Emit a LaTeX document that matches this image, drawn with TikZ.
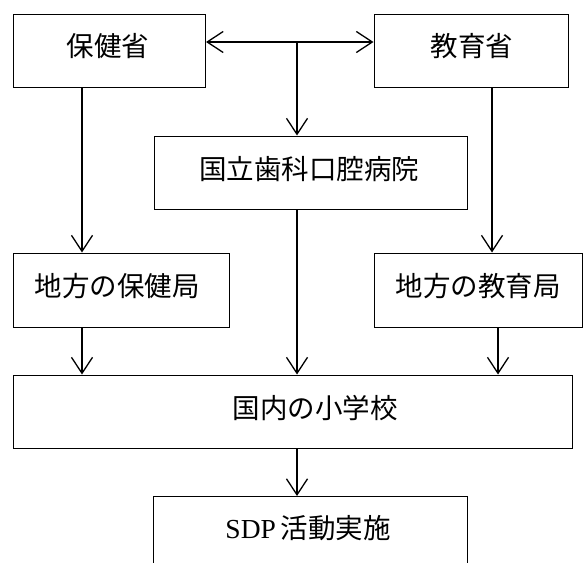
\documentclass[tikz,border=0pt]{standalone}
\usepackage{fontspec}
\setmainfont{Liberation Serif}
\newfontfamily\cjk{Noto Sans CJK JP}
\usetikzlibrary{arrows.meta}
\tikzset{
  box/.style={draw=black, line width=1pt, inner sep=0pt, fill=none},
  lbl/.style={inner sep=0pt, font=\fontsize{27.5}{32}\selectfont\cjk},
  conn/.style={line width=1.3pt, -{Straight Barb[length=16pt,width=21pt,line width=1.3pt]}},
  dconn/.style={line width=1.3pt, {Straight Barb[length=16pt,width=21pt,line width=1.3pt]}-{Straight Barb[length=16pt,width=21pt,line width=1.3pt]}}
}
\begin{document}
\begin{tikzpicture}[x=1pt,y=-1pt]
\useasboundingbox[fill=white] (0,0) rectangle (583,562);
\clip (0,0) rectangle (583,562);
% boxes
\node[box, minimum width=192, minimum height=73] (hoken) at (109.5,50.5) {};
\node[box, minimum width=194, minimum height=73] (kyoiku) at (471,50.5) {};
\node[box, minimum width=313, minimum height=73] (koku) at (310.5,172.5) {};
\node[box, minimum width=216, minimum height=74] (chihoH) at (121,290) {};
\node[box, minimum width=208, minimum height=74] (chihoK) at (478,290) {};
\node[box, minimum width=559, minimum height=73] (school) at (292.5,411.5) {};
\node[box, minimum width=314, minimum height=100, anchor=north] (sdp) at (310,496) {};
% texts
\node[lbl] (t1) at (108,46) {保健省};
\node[lbl] (t2) at (472,46) {教育省};
\node[lbl] (t3) at (309,169) {国立歯科口腔病院};
\node[lbl] (t4) at (117,286) {地方の保健局};
\node[lbl] (t5) at (478,286) {地方の教育局};
\node[lbl] (t6) at (315,408) {国内の小学校};
\node[lbl] (t7) at (308,528) {\rmfamily SDP\,\cjk 活動実施};
% connectors
\coordinate (j) at (297,42);
\draw[dconn] (hoken.east|-j) -- (kyoiku.west|-j);
\draw[conn] (j) -- (koku.north-|j);
\draw[conn] (82,87) coordinate (a1) -- (a1|-chihoH.north);
\draw[conn] (492,87) coordinate (a2) -- (a2|-chihoK.north);
\draw[conn] (82,327) coordinate (a3) -- (a3|-school.north);
\draw[conn] (498,327) coordinate (a4) -- (a4|-school.north);
\draw[conn] (297,209) coordinate (a5) -- (a5|-school.north);
\draw[conn] (297,448) coordinate (a6) -- (a6|-sdp.north);
\end{tikzpicture}
\end{document}
